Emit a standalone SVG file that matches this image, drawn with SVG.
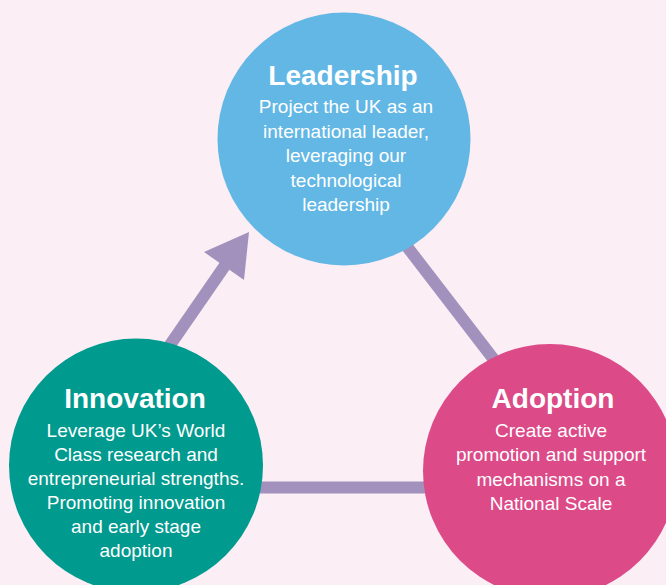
<svg xmlns="http://www.w3.org/2000/svg" width="666" height="585" viewBox="0 0 666 585">
<style>
.bg{fill:#fbeef5}
.conn{stroke:#a391bd;stroke-width:12;fill:none}
.head{fill:#a391bd}
.title{font-family:"Liberation Sans",Arial,sans-serif;font-weight:bold;font-size:28px;fill:#ffffff;text-anchor:middle}
.body{font-family:"Liberation Sans",Arial,sans-serif;font-size:19px;fill:#ffffff;text-anchor:middle}
</style>
<rect class="bg" x="0" y="0" width="666" height="585"/>
<g id="connectors">
<line class="conn" x1="150" y1="374" x2="226" y2="264"/>
<polygon class="head" points="249,232 204,252 244,280"/>
<line class="conn" x1="395" y1="231" x2="505" y2="374"/>
<line class="conn" x1="250" y1="487.5" x2="440" y2="487.5"/>
</g>
<g id="leadership">
<circle cx="344" cy="139" r="126.5" fill="#62b7e5"/>
<text class="title" x="343" y="85">Leadership</text>
<text class="body" x="346" y="113">Project the UK as an</text>
<text class="body" x="346" y="138">international leader,</text>
<text class="body" x="346" y="162">leveraging our</text>
<text class="body" x="346" y="187">technological</text>
<text class="body" x="346" y="211">leadership</text>
</g>
<g id="innovation">
<circle cx="136" cy="465.5" r="127" fill="#009a8e"/>
<text class="title" x="135" y="408">Innovation</text>
<text class="body" x="136" y="437">Leverage UK’s World</text>
<text class="body" x="136" y="461">Class research and</text>
<text class="body" x="136" y="485">entrepreneurial strengths.</text>
<text class="body" x="136" y="509">Promoting innovation</text>
<text class="body" x="136" y="533">and early stage</text>
<text class="body" x="136" y="557">adoption</text>
</g>
<g id="adoption">
<circle cx="550" cy="471" r="127" fill="#dc4a88"/>
<text class="title" x="553" y="408">Adoption</text>
<text class="body" x="551" y="437">Create active</text>
<text class="body" x="551" y="461">promotion and support</text>
<text class="body" x="551" y="486">mechanisms on a</text>
<text class="body" x="551" y="510">National Scale</text>
</g>
</svg>
